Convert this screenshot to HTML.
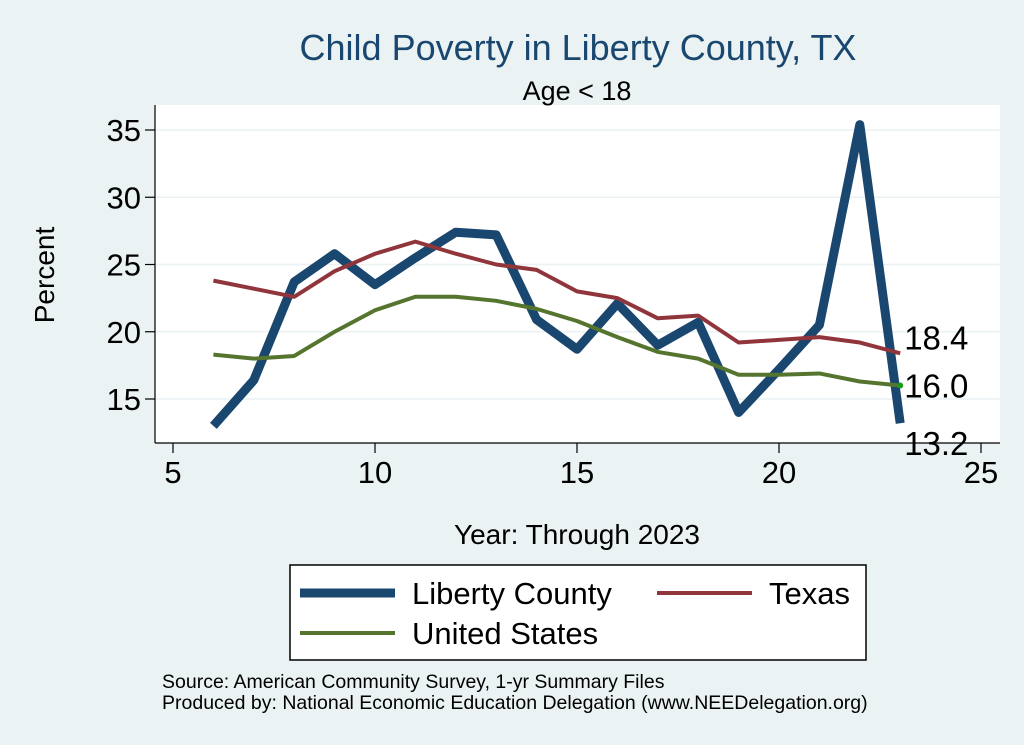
<!DOCTYPE html>
<html><head><meta charset="utf-8"><style>
body{margin:0;background:#eaf2f3;font-family:"Liberation Sans",Arial,sans-serif;}
svg{display:block}
</style></head><body>
<svg id="c" width="1024" height="745">
<rect width="1024" height="745" fill="#eaf2f3"/>
<rect x="155" y="105" width="845" height="338" fill="#fff"/>
<text x="578" y="60" font-size="36" fill="#1a476f" text-anchor="middle">Child Poverty in Liberty County, TX</text>
<text x="577" y="100" font-size="27" text-anchor="middle">Age &lt; 18</text>
<text x="54" y="275" font-size="28" text-anchor="middle" transform="rotate(-90 54 275)">Percent</text>
<text x="577" y="544" font-size="28" text-anchor="middle">Year: Through 2023</text>
<g id="grid"></g><g id="axes"></g><g id="series"></g><g id="labels"></g>
<g>
<rect x="290" y="565" width="576" height="95" fill="#fff" stroke="#000" stroke-width="1.5"/>
<line x1="300" y1="593" x2="395" y2="593" stroke="#1a476f" stroke-width="9"/>
<text x="412" y="604" font-size="31">Liberty County</text>
<line x1="657" y1="593" x2="752" y2="593" stroke="#90353b" stroke-width="4"/>
<text x="769" y="604" font-size="31">Texas</text>
<line x1="300" y1="633" x2="395" y2="633" stroke="#55752f" stroke-width="4"/>
<text x="412" y="644" font-size="31">United States</text>
</g>
<text x="162" y="688" font-size="19.5">Source: American Community Survey, 1-yr Summary Files</text>
<text x="162" y="709" font-size="19.5">Produced by: National Economic Education Delegation (www.NEEDelegation.org)</text>
</svg>
<script>
const years=[6,7,8,9,10,11,12,13,14,15,16,17,18,19,20,21,22,23];
const liberty=[13.0,16.4,23.7,25.8,23.5,25.5,27.4,27.2,20.9,18.7,22.1,19.0,20.7,14.0,17.2,20.5,35.4,13.2];
const texas=[23.8,23.2,22.6,24.5,25.8,26.7,25.8,25.0,24.6,23.0,22.5,21.0,21.2,19.2,19.4,19.6,19.2,18.4];
const us=[18.3,18.0,18.2,20.0,21.6,22.6,22.6,22.3,21.7,20.8,19.6,18.5,18.0,16.8,16.8,16.9,16.3,16.0];
const xTicks=[5,10,15,20,25];
const yTicks=[15,20,25,30,35];
const NS="http://www.w3.org/2000/svg";
const X=v=>173+(v-5)*40.4;
const Y=v=>399-(v-15)*13.45;
function mk(t,a,p){const e=document.createElementNS(NS,t);for(const k in a)e.setAttribute(k,a[k]);document.getElementById(p).appendChild(e);return e;}
yTicks.forEach(v=>{
  const g=mk('line',{x1:155,x2:1000,y1:Y(v),y2:Y(v),stroke:'#eaf2f3','stroke-width':1.5},'grid');
  
  
  const t=mk('line',{x1:145,x2:155,y1:Y(v),y2:Y(v),stroke:'#000','stroke-width':1.2},'axes');
  
  
  const l=mk('text',{x:141,y:Y(v)+11,'font-size':31,'text-anchor':'end'},'axes');l.textContent=v;
  
  
});
xTicks.forEach(v=>{
  const t=mk('line',{x1:X(v),x2:X(v),y1:443,y2:453,stroke:'#000','stroke-width':1.2},'axes');
  
  
  const l=mk('text',{x:X(v),y:483,'font-size':31,'text-anchor':'middle'},'axes');l.textContent=v;
  
  
});
const ya=mk('line',{x1:155,x2:155,y1:105,y2:443,stroke:'#000','stroke-width':1.2},'axes');


const xa=mk('line',{x1:155,x2:1000,y1:443,y2:443,stroke:'#000','stroke-width':1.2},'axes');


function line(vals,col,w,name){
  const p=mk('polyline',{points:years.map((y,i)=>X(y)+','+Y(vals[i])).join(' '),fill:'none',stroke:col,'stroke-width':w,'stroke-linejoin':'round'},'series');
  
  
}
line(liberty,'#1a476f',9,'liberty-county-line');
line(texas,'#90353b',4,'texas-line');
line(us,'#55752f',4,'united-states-line');
const n=years.length-1;
const dot=mk('circle',{cx:X(years[n]),cy:Y(us[n]),r:3,fill:'#1a9a1a'},'labels');


[[texas,'texas-end-label',-4],[us,'us-end-label',12],[liberty,'liberty-end-label',32]].forEach(([s,nm,off])=>{
  const t=mk('text',{x:X(years[n])+4,y:Y(s[n])+off,'font-size':33},'labels');
  t.textContent=s[n].toFixed(1);
  
  
});
</script>
</body></html>
